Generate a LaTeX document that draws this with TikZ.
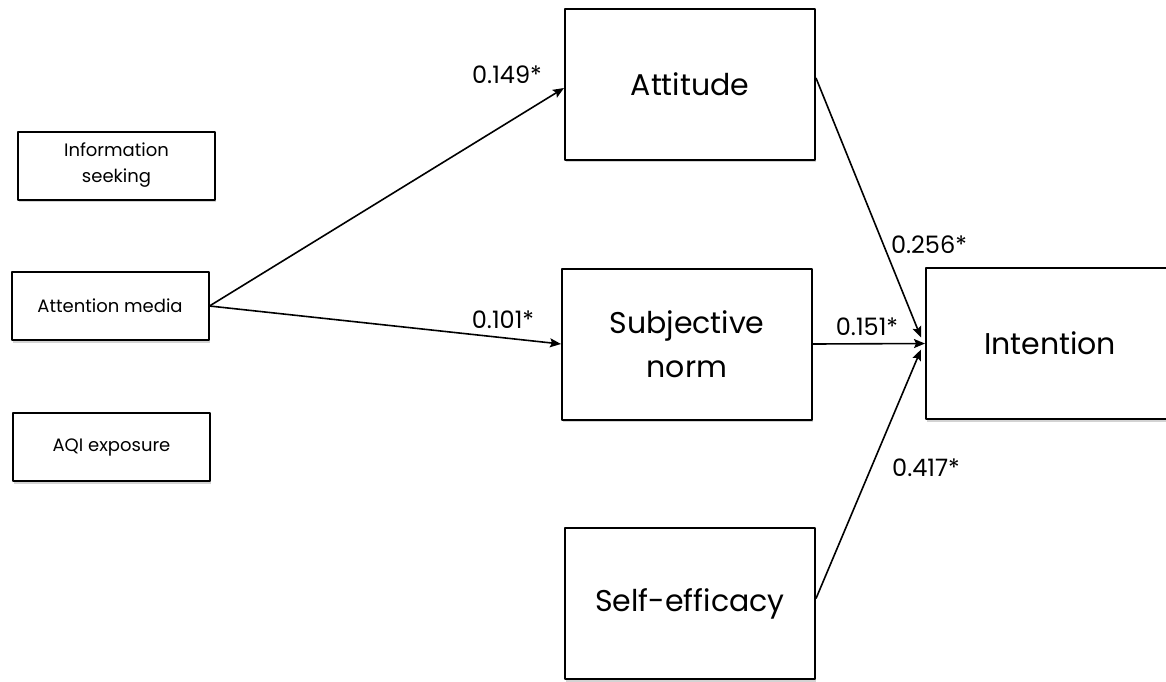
\documentclass[tikz,border=0pt]{standalone}
\usepackage{fontspec}
\setmainfont{Poppins}
\usetikzlibrary{shadows, arrows.meta}
\tikzset{
  varbox/.style={draw, line width=1pt, fill=white, align=center, inner sep=0pt,
    drop shadow={shadow xshift=0.6pt, shadow yshift=-1.4pt, opacity=0.35}},
  smallbox/.style={varbox, minimum width=98.5pt, minimum height=34pt, font=\fontsize{9}{13}\selectfont},
  bigbox/.style={varbox, minimum width=125pt, minimum height=75.5pt, font=\fontsize{15}{22}\selectfont},
  coef/.style={font=\fontsize{12}{14}\selectfont, inner sep=0pt},
  path/.style={-{Stealth[length=5.5pt, width=4.5pt, inset=1pt]}, line width=0.8pt},
}
\begin{document}
\begin{tikzpicture}[x=0.5pt, y=-0.5pt, line join=round]
\useasboundingbox (0,0) rectangle (1166,681);
% exogenous variables
\node[smallbox] (info) at (116.5,165.5) {Information\\seeking};
\node[smallbox] (media) at (110,306) {Attention media};
\node[smallbox] (aqi) at (111.5,447) {AQI exposure};
% mediators and outcome
\node[bigbox] (att) at (690,84) {Attitude};
\node[bigbox] (norm) at (687,344) {Subjective\\norm};
\node[bigbox] (eff) at (690,603.5) {Self-efficacy};
\node[bigbox, minimum width=124pt] (int) at (1050,343.5) {Intention};
% paths
\draw[path] (media.east) -- ([yshift=-2pt]att.west);
\draw[path] (media.east) -- (norm.west);
\draw[path] ([yshift=3pt]att.east) -- ([xshift=-2pt, yshift=3pt]int.west);
\draw[path] (norm.east) -- (int.west);
\draw[path] ([yshift=2.5pt]eff.east) -- ([xshift=-2pt, yshift=-3pt]int.west);
% coefficients
\node[coef] (c149) at (507,75) {0.149*};
\node[coef] (c101) at (503,320) {0.101*};
\node[coef] (c256) at (929,245) {0.256*};
\node[coef] (c151) at (867,327) {0.151*};
\node[coef] (c417) at (926,468) {0.417*};
\end{tikzpicture}
\end{document}
